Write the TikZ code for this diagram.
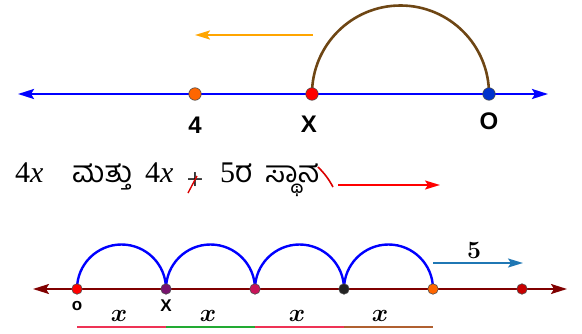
\documentclass[tikz,border=0pt]{standalone}
\usepackage{fontspec}
\usepackage{amsmath}
\usepackage{bm}
\setmainfont{Liberation Serif}
\newfontfamily\kannadafont[Script=Kannada]{Hind Mysuru}
\newfontfamily\labelfont{Liberation Sans}
\usepackage{tikz}
\usetikzlibrary{arrows.meta, backgrounds}
\definecolor{lineblue}{RGB}{0,0,255}
\definecolor{arcbrown}{RGB}{110,70,20}
\definecolor{arroworange}{RGB}{255,165,0}
\definecolor{dotorange}{RGB}{255,102,0}
\definecolor{dotblue}{RGB}{0,51,204}
\definecolor{axisred}{RGB}{128,0,0}
\definecolor{dotpurple}{RGB}{120,20,110}
\definecolor{dotcrimson}{RGB}{200,20,90}
\definecolor{dotdark}{RGB}{35,35,35}
\definecolor{dotred}{RGB}{200,0,0}
\definecolor{stepteal}{RGB}{31,119,180}
\definecolor{segpink}{RGB}{238,51,85}
\definecolor{seggreen}{RGB}{34,170,51}
\definecolor{segbrown}{RGB}{176,96,48}

\begin{document}
\begin{tikzpicture}[x=1pt, y=1pt,
    dot/.style={circle, draw=black!70, line width=0.6pt, fill=#1, inner sep=0pt, minimum size=12.5pt},
    sdot/.style={dot=#1, minimum size=10.5pt},
    bothtips/.style={{Stealth[length=16pt, width=10pt, inset=3pt]}-{Stealth[length=16pt, width=10pt, inset=3pt]}},
    onetip/.style={-{Stealth[length=15pt, width=9pt, inset=3pt]}},
    bigsans/.style={font=\labelfont\bfseries\fontsize{24}{24}\selectfont, inner sep=0pt},
    smallsans/.style={font=\labelfont\bfseries\fontsize{17}{17}\selectfont, inner sep=0pt},
    word/.style={anchor=base west, inner sep=0pt, font=\fontsize{30}{30}\selectfont},
    kword/.style={word, font=\kannadafont\fontsize{30}{30}\selectfont},
    xlen/.style={font=\fontsize{23}{23}\selectfont, inner sep=0pt}]
    \useasboundingbox (0,0) rectangle (582,333);

    % top number line
    \coordinate (tl) at (18,239);
    \coordinate (tr) at (548,239);
    \node[dot=dotorange] (four) at (195,239) {};
    \node[dot=red] (xpt) at (312,239) {};
    \node[dot=dotblue] (orig) at (489,239) {};
    \begin{scope}[on background layer]
        \draw[bothtips, lineblue, line width=2.4pt] (tl) -- (tr);
        \draw[arcbrown, line width=2.6pt] (xpt.center) arc[start angle=180, end angle=0, radius=88.5];
    \end{scope}
    \coordinate (otail) at (313,298);
    \coordinate (ohead) at (195,298);
    \draw[onetip, arroworange, line width=2pt] (otail) -- (ohead);

    \node[bigsans] (l4) at (195,208) {4};
    \node[bigsans] (lx) at (309,209) {X};
    \node[bigsans] (lo) at (489,211.5) {O};

    % sentence
    \node[word] (w1) at (15,151) {4\textit{x}};
    \node[kword] (w2) at (72,151) {ಮತ್ತು};
    \node[word] (w3) at (145,151) {4\textit{x}};
    \node[font=\fontsize{30}{30}\selectfont, inner sep=0pt] (w4) at (195,152) {+};
    \node[word] (w5) at (220,151) {5\kannadafont ರ};
    \node[kword] (w6) at (265,151) {ಸ್ಥಾನ};
    \draw[red!85!black, line width=1.4pt] (188,140) -- (197,157);
    \draw[red!85!black, line width=1.6pt] (318,166) to[bend left=8] (333,146);
    \coordinate (rtail) at (338,148);
    \coordinate (rhead) at (440,148);
    \draw[onetip, red, line width=1.8pt] (rtail) -- (rhead);

    % bottom number line
    \coordinate (bl) at (33,44);
    \coordinate (br) at (567,44);
    \node[sdot=red] (b0) at (77,44) {};
    \node[sdot=dotpurple] (b1) at (166,44) {};
    \node[sdot=dotcrimson] (b2) at (255,44) {};
    \node[sdot=dotdark] (b3) at (344,44) {};
    \node[sdot=dotorange] (b4) at (433,44) {};
    \node[sdot=dotred] (b5) at (522,44) {};
    \begin{scope}[on background layer]
        \draw[bothtips, axisred, line width=1.8pt] (bl) -- (br);
        \draw[lineblue, line width=2.4pt] (b0.center) arc[start angle=180, end angle=0, radius=44.5]
            (b1.center) arc[start angle=180, end angle=0, radius=44.5]
            (b2.center) arc[start angle=180, end angle=0, radius=44.5]
            (b3.center) arc[start angle=180, end angle=0, radius=44.5];
    \end{scope}
    \node[smallsans] (so) at (77,27) {o};
    \node[smallsans] (sx) at (166,27) {X};

    \node[font=\fontsize{25}{25}\selectfont, inner sep=0pt] (five) at (474,83) {$\bm{5}$};
    \coordinate (ttail) at (433,70);
    \coordinate (thead) at (523,70);
    \draw[onetip, stepteal, line width=1.8pt] (ttail) -- (thead);

    % lengths x
    \coordinate (s0) at (77,6);
    \coordinate (s1) at (166,6);
    \coordinate (s2) at (255,6);
    \coordinate (s3) at (344,6);
    \coordinate (s4) at (433,6);
    \draw[segpink, line width=2pt] (s0) -- (s1);
    \draw[seggreen, line width=2pt] (s1) -- (s2);
    \draw[segpink, line width=2pt] (s2) -- (s3);
    \draw[segbrown, line width=2pt] (s3) -- (s4);
    \node[xlen] (x1) at (119,17) {$\bm{x}$};
    \node[xlen] (x2) at (208,17) {$\bm{x}$};
    \node[xlen] (x3) at (297,17) {$\bm{x}$};
    \node[xlen] (x4) at (380,17) {$\bm{x}$};
\end{tikzpicture}
\end{document}
